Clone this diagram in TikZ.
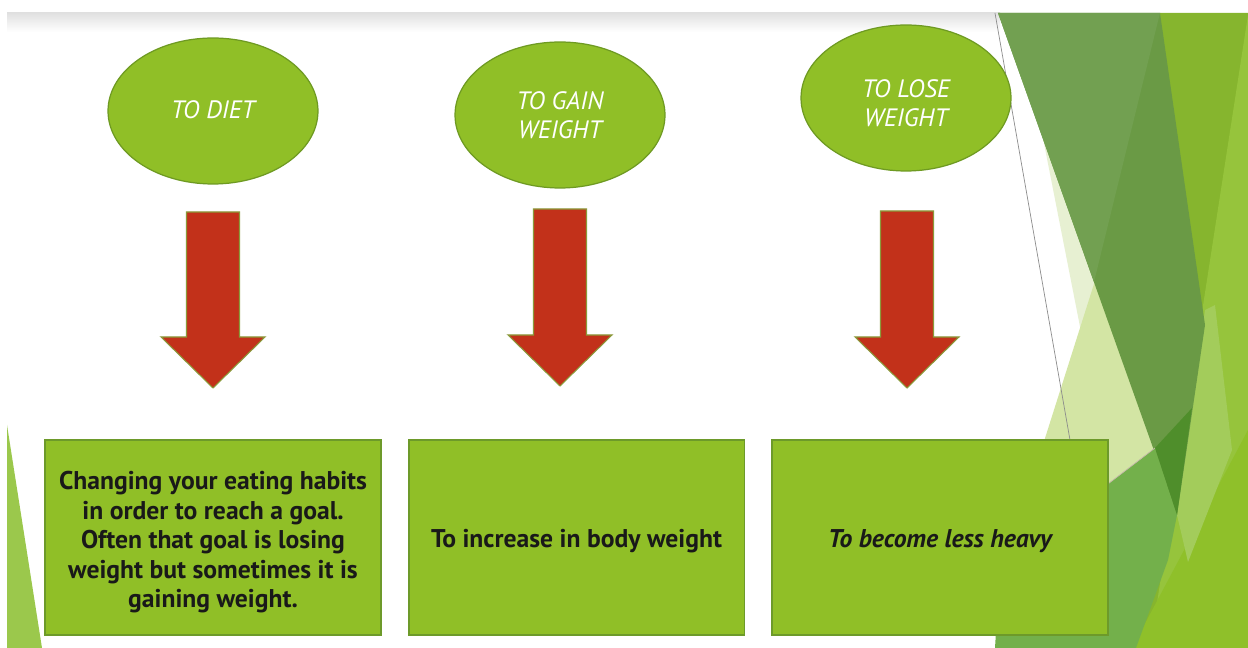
\documentclass[tikz,border=0pt]{standalone}
\usepackage{fontspec}
\setmainfont{PT Sans}
\usetikzlibrary{shapes.geometric}
\definecolor{leaf}{HTML}{90BF27}
\definecolor{leafedge}{HTML}{6E9A22}
\definecolor{boxedge}{HTML}{6D9A2A}
\definecolor{arrowred}{HTML}{C2311A}
\definecolor{arrowedge}{HTML}{8A9A3A}
\definecolor{gA}{HTML}{86B52E}
\definecolor{gB}{HTML}{96C43C}
\definecolor{gC}{HTML}{8FC02A}
\definecolor{gD}{HTML}{A3CC5B}
\definecolor{gE}{HTML}{E7F0D2}
\definecolor{gF}{HTML}{D3E5A4}
\definecolor{gG}{HTML}{6A9A45}
\definecolor{gH}{HTML}{72A051}
\definecolor{gI}{HTML}{73B04B}
\definecolor{gJ}{HTML}{4F8E2B}
\definecolor{gK}{HTML}{9BC84C}
\definecolor{thinline}{HTML}{C9B9AE}
\newcommand\redblockarrow[4]{%
  \filldraw[blockarrow] (#1-26.5,#2) -- (#1+26.5,#2) -- (#1+26.5,#3) -- (#1+52,#3)
    -- (#1,#4) -- (#1-52,#3) -- (#1-26.5,#3) -- cycle;}
\begin{document}
\begin{tikzpicture}[x=0.02cm,y=-0.02cm,
  bubble/.style={ellipse, fill=leaf, draw=leafedge, line width=0.7pt,
    minimum width=4.2cm, minimum height=2.92cm, inner sep=0pt, align=center,
    text=white, font=\fontsize{14.3}{16.5}\selectfont\itshape},
  bubbletext/.style={align=center, inner sep=0pt, text=white,
    font=\fontsize{14.3}{16.5}\selectfont\itshape},
  defbox/.style={rectangle, fill=leaf, draw=boxedge, line width=1.1pt,
    minimum width=6.72cm, minimum height=3.9cm, inner sep=0pt, align=center,
    text=black!90, font=\fontsize{14.6}{16.8}\selectfont\bfseries},
  blockarrow/.style={fill=arrowred, draw=arrowedge, line width=0.6pt, line join=miter}]
\useasboundingbox (0,0) rectangle (1248,648);
\fill[white] (0,0) rectangle (1248,648);
% top shadow of slide
\shade[top color=black!12, bottom color=white] (7,13) rectangle (1000,32);
% left bottom facet
\fill[gK] (7,425) -- (7,648) -- (42,648) -- cycle;
% right facets
\fill[gA] (1160,13) -- (1248,13) -- (1248,648) -- (1120,648) -- (1180,500) -- cycle;
\fill[gB] (1248,15) -- (1248,648) -- (1150,648) -- cycle;
\fill[gC] (1248,430) -- (1248,648) -- (1132,648) -- cycle;
\fill[gD] (1205,310) -- (1215,305) -- (1232,450) -- (1188,562) -- (1177,515) -- cycle;
\fill[gE] (1041,128) -- (1084,347) -- (1120,300) -- (1080,150) -- cycle;
\fill[gF] (1100,265) -- (1140,265) -- (1162,450) -- (1108,484) -- (1000,580) -- cycle;
\fill[gG] (998,13) -- (1160,13) -- (1205,325) -- (1177,515) -- cycle;
\fill[gH] (998,13) -- (1160,13) -- (1094,282) -- cycle;
\fill[gI] (995,648) -- (1000,568) -- (1108,484) -- (1155,448) -- (1177,515) -- (1168,560) -- (1136,648) -- cycle;
\fill[gJ] (1155,448) -- (1192,408) -- (1177,515) -- cycle;
\draw[black!45, line width=0.4pt] (995,13) -- (1070,440);
\draw[thinline, line width=0.4pt] (1100,490) -- (1155,448);
% ellipses
\node[bubble] (diet) at (213,111) {\raisebox{0.06cm}{TO DIET}};
\node[bubble] (gain) at (560,115) {TO GAIN\\WEIGHT};
\node[bubble, label={[bubbletext, yshift=-0.11cm]center:{TO LOSE\\WEIGHT}}] (lose) at (906,98) {};
% arrows
\redblockarrow{213}{212}{337}{388}
\redblockarrow{560}{209}{335}{386}
\redblockarrow{907}{211}{337}{388}
% boxes
\node[defbox] (ddiet) at (213,537.5) {\rule{0pt}{0.55cm}Changing your eating habits\\in order to reach a goal.\\Often that goal is losing\\weight but sometimes it is\\gaining weight.};
\node[defbox] (dgain) at (576.5,537.5) {\rule{0pt}{0.49cm}To increase in body weight};
\node[defbox] (dlose) at (940,537.5) {\rule{0pt}{0.49cm}\itshape To become less heavy};
\end{tikzpicture}
\end{document}
